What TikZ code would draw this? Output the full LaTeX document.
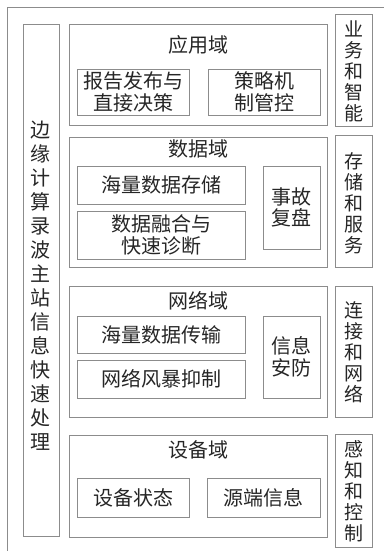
\documentclass[tikz,border=0pt]{standalone}
\usepackage{fontspec}
\setmainfont{Noto Sans CJK SC}
\begin{document}
\begin{tikzpicture}[x=1pt,y=-1pt,
  line/.style={draw=black!45, line width=0.8pt},
  box/.style={line, rectangle, inner sep=0pt, outer sep=0pt},
  txt/.style={text=black!85, align=center, inner sep=0pt, font=\fontsize{20}{21.5}\selectfont},
  coltxt/.style={text=black!85, align=center, inner sep=0pt, text width=22pt, font=\fontsize{20}{24}\selectfont},
  rtxt/.style={text=black!85, align=center, inner sep=0pt, text width=22pt, font=\fontsize{19}{21}\selectfont}]
\useasboundingbox (0,0) rectangle (383,551);
% outer frame (cut off at right and bottom)
\coordinate (oTR) at (390,7);
\coordinate (oTL) at (7,7);
\coordinate (oBL) at (7,560);
\draw[line] (oTR) -- (oTL) -- (oBL);
% left column
\node[box, minimum width=36, minimum height=512] (left) at (41,280) {};
\node[coltxt] (lefttxt) at (41,286) {边\\缘\\计\\算\\录\\波\\主\\站\\信\\息\\快\\速\\处\\理};
% domain boxes
\node[box, minimum width=258, minimum height=101] (app) at (198,74.5) {};
\node[box, minimum width=258, minimum height=130] (data) at (198,202) {};
\node[box, minimum width=258, minimum height=131] (net) at (198,351.5) {};
\node[box, minimum width=258, minimum height=102] (dev) at (198,486) {};
% titles
\node[txt] (appt) at (198,45) {应用域};
\node[txt] (datat) at (198,149) {数据域};
\node[txt] (nett) at (198,301) {网络域};
\node[txt] (devt) at (198,450) {设备域};
% right boxes
\node[box, minimum width=37, minimum height=112] (r1) at (353.5,70) {};
\node[rtxt] (r1t) at (353.5,71) {业\\务\\和\\智\\能};
\node[box, minimum width=37, minimum height=132] (r2) at (353.5,201) {};
\node[rtxt] (r2t) at (353.5,203) {存\\储\\和\\服\\务};
\node[box, minimum width=37, minimum height=131] (r3) at (353.5,351.5) {};
\node[rtxt] (r3t) at (353.5,352) {连\\接\\和\\网\\络};
\node[box, minimum width=37, minimum height=113] (r4) at (353.5,490.5) {};
\node[rtxt] (r4t) at (353.5,491) {感\\知\\和\\控\\制};
% inner boxes
\node[box, txt, minimum width=112, minimum height=46] (a1) at (133,92) {报告发布与\\直接决策};
\node[box, txt, minimum width=112, minimum height=46] (a2) at (264,92) {策略机\\制管控};
\node[box, txt, minimum width=168, minimum height=38] (d1) at (161,185) {海量数据存储};
\node[box, txt, minimum width=168, minimum height=48] (d2) at (161,235) {数据融合与\\快速诊断};
\node[box, txt, minimum width=57, minimum height=83] (d3) at (291.5,207.5) {事故\\复盘};
\node[box, txt, minimum width=168, minimum height=37] (n1) at (161,334.5) {海量数据传输};
\node[box, txt, minimum width=168, minimum height=38] (n2) at (161,379) {网络风暴抑制};
\node[box, txt, minimum width=57, minimum height=82] (n3) at (291.5,357) {信息\\安防};
\node[box, txt, minimum width=112, minimum height=39] (e1) at (133,497.5) {设备状态};
\node[box, txt, minimum width=113, minimum height=39] (e2) at (263.5,497.5) {源端信息};
\end{tikzpicture}
\end{document}
